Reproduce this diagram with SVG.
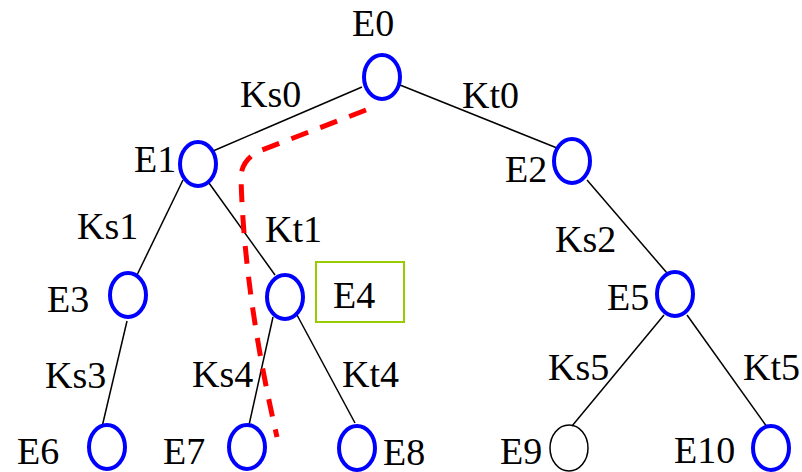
<svg xmlns="http://www.w3.org/2000/svg" width="802" height="472" viewBox="0 0 802 472">
<style>
text{font-family:'Liberation Serif','Times New Roman',serif;font-size:38px;fill:#000}
.n{fill:none;stroke:#0000ff;stroke-width:4}
.e{stroke:#000;stroke-width:1.5;fill:none}
</style>
<rect width="802" height="472" fill="#fff"/>
<g id="connectors">
<line class="e" x1="362" y1="87" x2="213" y2="151"/>
<line class="e" x1="400" y1="85" x2="557" y2="148"/>
<line class="e" x1="183" y1="180" x2="137" y2="275"/>
<line class="e" x1="209" y1="183" x2="275" y2="275"/>
<line class="e" x1="127" y1="321" x2="102" y2="427"/>
<line class="e" x1="273" y1="317" x2="249" y2="425"/>
<line class="e" x1="297" y1="315" x2="355" y2="423"/>
<line class="e" x1="587" y1="180" x2="667" y2="273"/>
<line class="e" x1="664" y1="315" x2="572" y2="426"/>
<line class="e" x1="687" y1="315" x2="767" y2="427"/>
<path d="M366 110 L262 150 Q243 158 241 175 C242 230 250 320 277 437" fill="none" stroke="#ff0000" stroke-width="5" stroke-dasharray="18 13"/>
</g>
<g id="labels">
<text x="240" y="107">Ks0</text>
<text x="462" y="108">Kt0</text>
<text x="77" y="239">Ks1</text>
<text x="265" y="242">Kt1</text>
<text x="555" y="252">Ks2</text>
<text x="45" y="388">Ks3</text>
<text x="192" y="387">Ks4</text>
<text x="342" y="387">Kt4</text>
<text x="548" y="380">Ks5</text>
<text x="743" y="380">Kt5</text>
</g>
<g id="E0"><ellipse class="n" cx="382" cy="77" rx="18" ry="22"/><text x="352" y="36">E0</text></g>
<g id="E1"><ellipse class="n" cx="198" cy="164" rx="18" ry="22"/><text x="134" y="172">E1</text></g>
<g id="E2"><ellipse class="n" cx="572" cy="161" rx="18" ry="22"/><text x="505" y="182">E2</text></g>
<g id="E3"><ellipse class="n" cx="128" cy="295" rx="18" ry="22"/><text x="47" y="312">E3</text></g>
<g id="E4"><ellipse class="n" cx="285" cy="297" rx="18" ry="22"/><rect x="316" y="262" width="88" height="60" fill="none" stroke="#99cc00" stroke-width="2"/><text x="333" y="308">E4</text></g>
<g id="E5"><ellipse class="n" cx="675" cy="294" rx="18" ry="22"/><text x="607" y="310">E5</text></g>
<g id="E6"><ellipse class="n" cx="107" cy="447" rx="18" ry="22"/><text x="17" y="464">E6</text></g>
<g id="E7"><ellipse class="n" cx="247" cy="447" rx="18" ry="22"/><text x="163" y="464">E7</text></g>
<g id="E8"><ellipse class="n" cx="357" cy="448" rx="18" ry="22"/><text x="383" y="465">E8</text></g>
<g id="E9"><ellipse cx="569" cy="448" rx="19" ry="23" fill="none" stroke="#000" stroke-width="1.5"/><text x="500" y="464">E9</text></g>
<g id="E10"><ellipse class="n" cx="771" cy="448" rx="18" ry="22"/><text x="674" y="463">E10</text></g>
</svg>
